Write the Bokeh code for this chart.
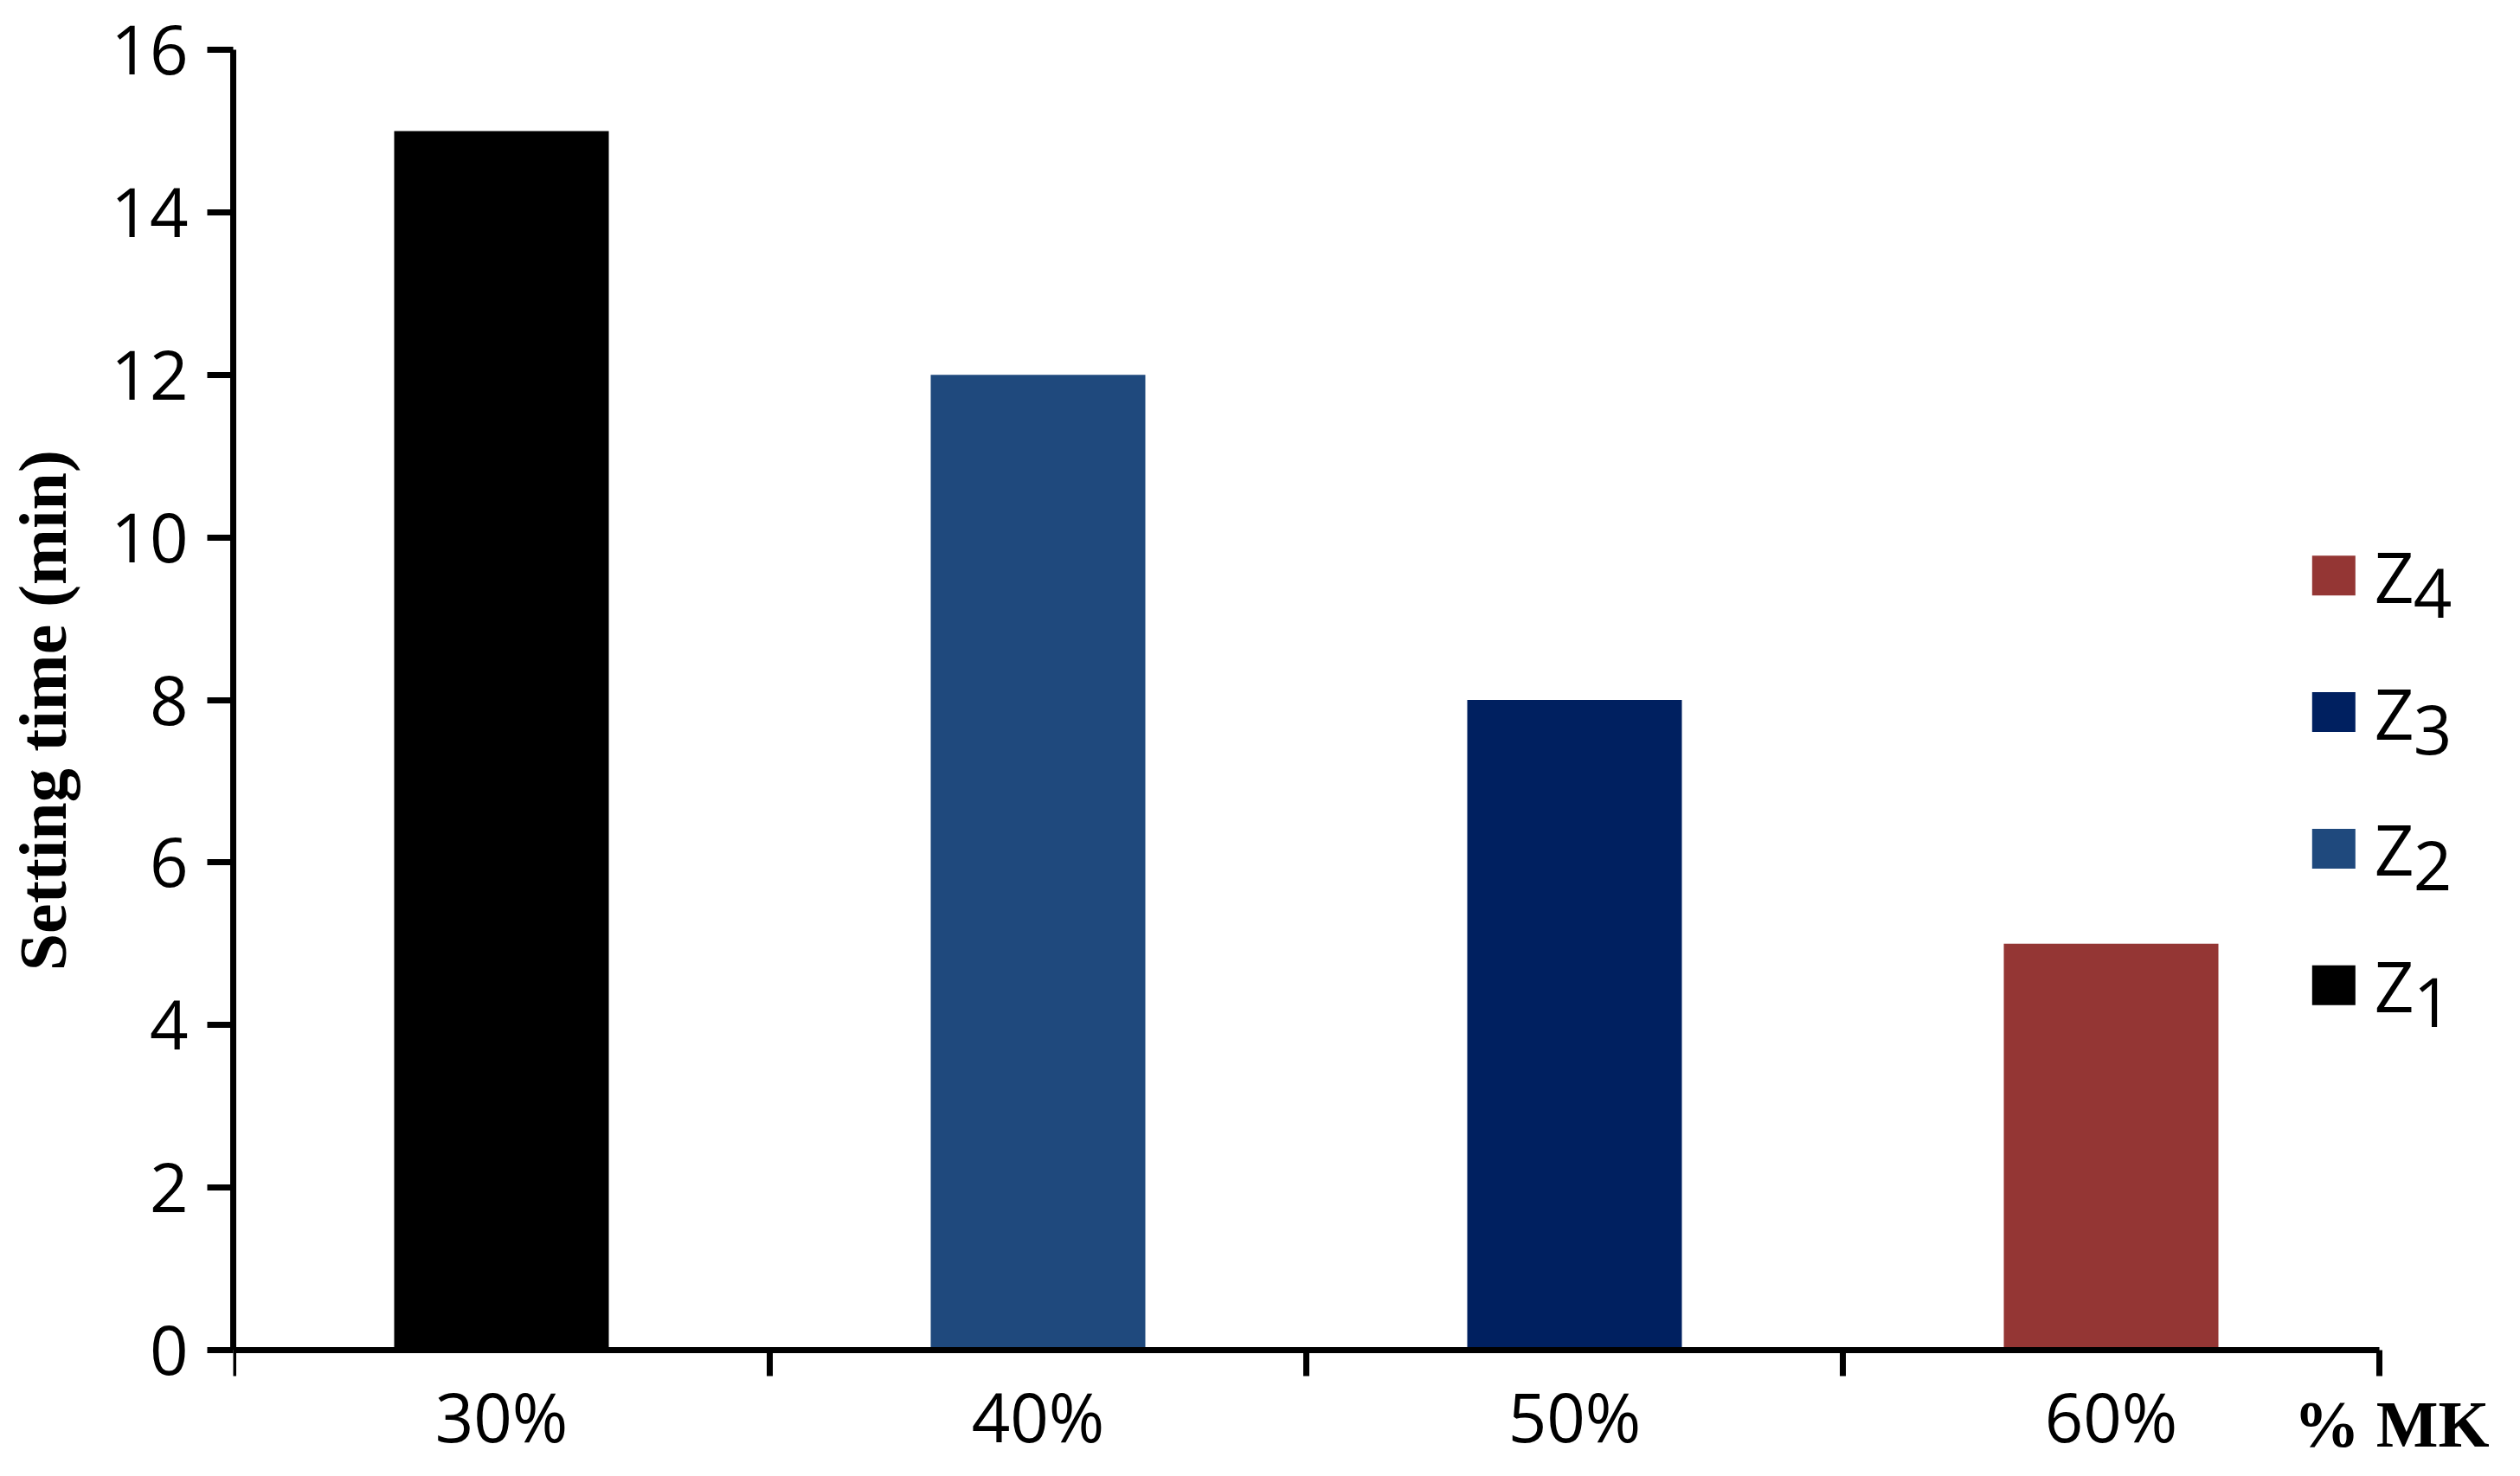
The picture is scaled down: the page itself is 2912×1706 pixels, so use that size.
from bokeh.plotting import figure
from bokeh.models import ColumnDataSource, Range1d, FixedTicker, CustomJSTickFormatter, LinearAxis
from bokeh.core.properties import value
from bokeh.embed import file_html
from bokeh.resources import INLINE

# ---- data ----
categories = ["30%", "40%", "50%", "60%"]
setting_time = [15, 12, 8, 5]
bar_colors = ["#000000", "#1F497D", "#002060", "#943634"]
series_subscripts = ["1", "2", "3", "4"]   # Z1..Z4
y_ticks = [0, 2, 4, 6, 8, 10, 12, 14, 16]
x_title = "% MK"
y_title = "Setting time (min)"

# ---- layout ----
W, H = 2890, 1688
LEFT, TOP = 269, 57
PLOT_H = 1503            # pixels for the 0..16 span
n = len(categories)
px_per_unit = 620.0
x_end = (W - LEFT) / px_per_unit
py_per_unit = PLOT_H / 16.0
y_start = -(H - TOP - PLOT_H) / py_per_unit   # room below zero for the category labels

p = figure(width=W, height=H, output_backend="svg", toolbar_location=None,
           x_range=Range1d(0, x_end), y_range=Range1d(y_start, 16),
           min_border_left=LEFT, min_border_top=TOP, min_border_right=0,
           min_border_bottom=0)
p.xgrid.visible = False
p.ygrid.visible = False
p.outline_line_color = None
p.background_fill_color = "white"
p.border_fill_color = "white"

centers = [i + 0.5 for i in range(n)]
src = ColumnDataSource(dict(x=centers, top=setting_time, color=bar_colors, cat=categories))
p.vbar(x="x", top="top", bottom=0, width=0.4, fill_color="color", line_color=None, source=src)

# x axis at y = 0 (category labels between boundary ticks)
xa = p.xaxis[0]
xa.fixed_location = 0
xa.bounds = (0, n)
xa.ticker = FixedTicker(ticks=centers, minor_ticks=list(range(n + 1)))
xa.formatter = CustomJSTickFormatter(args=dict(labels=categories),
                                     code="const i = Math.floor(tick); return (i >= 0 && i < labels.length) ? labels[i] : '';")
xa.major_tick_in = 0
xa.major_tick_out = 0
xa.minor_tick_in = 0
xa.minor_tick_out = 30
xa.minor_tick_line_width = 7
xa.minor_tick_line_color = "black"
xa.axis_line_width = 7
xa.axis_line_color = "black"
xa.major_label_text_font = "Open Sans"
xa.major_label_text_font_size = "78px"
xa.major_label_text_color = "black"
xa.major_label_standoff = -7

# x title at the right end of the axis
p.text(x=[4.205], y=[0], text=[x_title], x_offset=0, y_offset=85,
       text_align="right", text_baseline="middle",
       text_font=value("Liberation Serif"), text_font_style="bold",
       text_font_size="76px", text_color="black")

# y axis
ya = p.yaxis[0]
ya.bounds = (0, 16)
ya.ticker = FixedTicker(ticks=y_ticks, minor_ticks=[])
ya.major_tick_in = 0
ya.major_tick_out = 30
ya.major_tick_line_width = 7
ya.major_tick_line_color = "black"
ya.minor_tick_in = 0
ya.minor_tick_out = 0
ya.axis_line_width = 7
ya.axis_line_color = "black"
ya.major_label_text_font = "Open Sans"
ya.major_label_text_font_size = "78px"
ya.major_label_text_color = "black"
ya.major_label_standoff = 22

# y title: an outer left axis whose single label sits at the title's centre
yt_axis = LinearAxis(ticker=FixedTicker(ticks=[7.87], minor_ticks=[]),
                     formatter=CustomJSTickFormatter(args=dict(t=y_title), code="return t;"))
yt_axis.axis_line_color = None
yt_axis.major_tick_line_color = None
yt_axis.minor_tick_line_color = None
yt_axis.major_tick_in = 0
yt_axis.major_tick_out = 0
yt_axis.minor_tick_in = 0
yt_axis.minor_tick_out = 0
yt_axis.major_label_orientation = "parallel"
yt_axis.major_label_text_font = "Liberation Serif"
yt_axis.major_label_text_font_style = "bold"
yt_axis.major_label_text_font_size = "78px"
yt_axis.major_label_text_color = "black"
yt_axis.major_label_standoff = 32
p.add_layout(yt_axis, "left")

# legend (manual, with subscripts), top to bottom Z4..Z1
leg_x = 3.915
leg_step = 1.68
leg_y0 = 4.49
leg_y = [leg_y0 + k * leg_step for k in range(n)]
lsrc = ColumnDataSource(dict(x=[leg_x] * n, y=leg_y, color=bar_colors,
                             z=["Z"] * n, sub=series_subscripts))
p.rect(x="x", y="y", width=50, height=46, width_units="screen", height_units="screen",
       fill_color="color", line_color=None, source=lsrc)
p.text(x="x", y="y", text="z", x_offset=47, y_offset=0, text_align="left",
       text_baseline="middle", text_font=value("Open Sans"), text_font_size="80px",
       text_color="black", source=lsrc)
p.text(x="x", y="y", text="sub", x_offset=92, y_offset=20, text_align="left",
       text_baseline="middle", text_font=value("Open Sans"), text_font_size="78px",
       text_color="black", source=lsrc)

open("out.html", "w").write(file_html(p, INLINE))
